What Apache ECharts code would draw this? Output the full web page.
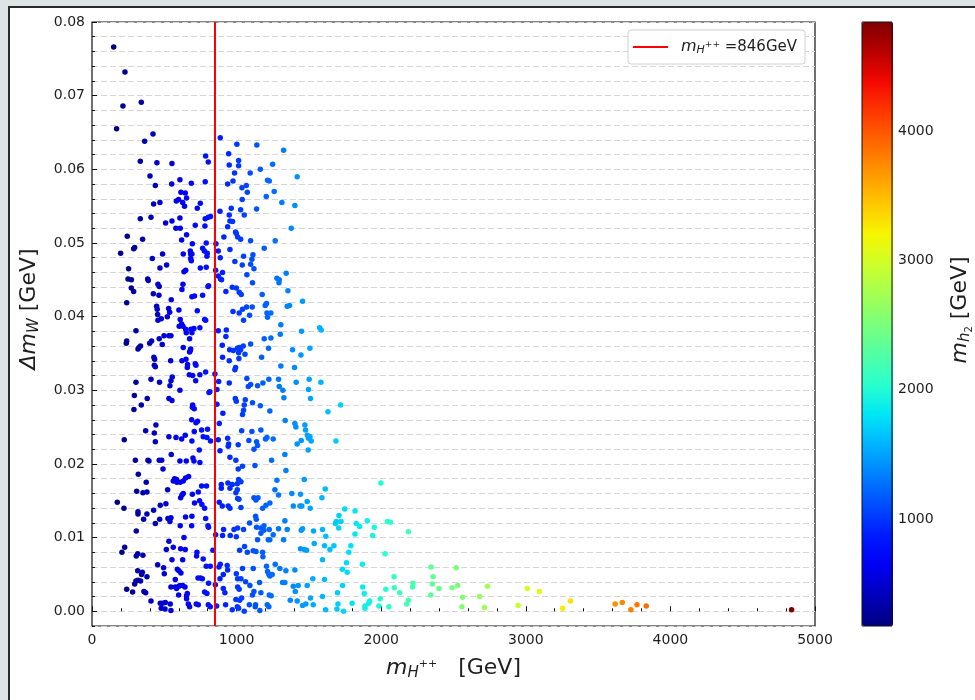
<!DOCTYPE html>
<html><head><meta charset="utf-8">
<script src="https://cdn.jsdelivr.net/npm/echarts@6/dist/echarts.min.js"></script>
<style>html,body{margin:0;padding:0;background:#dee3e3}#c{width:975px;height:700px}</style>
</head><body><div id="c"></div>
<script>
// [m_H++ (GeV), Delta m_W (GeV), m_h2 (GeV)]
const points = [
[150,0.0766,171],[228,0.0732,230],[214,0.0686,210],[341,0.0691,340],[170,0.0655,180],[422,0.0648,420],[364,0.0638,360],[334,0.0611,330],[449,0.0609,450],[553,0.0608,550],[401,0.0591,400],[438,0.0578,440],[551,0.0580,550],[608,0.0586,610],[687,0.0581,690],[783,0.0583,780],[786,0.0618,790],[804,0.0610,800],[615,0.0569,620],[645,0.0568,640],[654,0.0561,650],[583,0.0557,580],[599,0.0559,600],[627,0.0555,630],[640,0.0550,640],[426,0.0553,430],[470,0.0555,470],[749,0.0554,750],[728,0.0547,730],[334,0.0533,330],[408,0.0535,410],[509,0.0527,510],[553,0.0530,550],[608,0.0534,610],[580,0.0520,580],[610,0.0520,610],[714,0.0524,710],[781,0.0523,780],[783,0.0533,780],[804,0.0535,800],[820,0.0536,820],[887,0.0643,890],[945,0.0621,940],[1002,0.0634,1000],[949,0.0606,950],[1014,0.0612,1010],[1014,0.0605,1020],[986,0.0595,990],[1094,0.0595,1090],[1164,0.0600,1160],[975,0.0584,980],[938,0.0580,940],[1037,0.0575,1040],[1067,0.0578,1070],[1074,0.0569,1070],[1140,0.0633,1140],[1249,0.0607,1250],[1325,0.0626,1320],[1419,0.0590,1420],[1214,0.0585,1210],[1226,0.0584,1230],[1260,0.0570,1260],[1205,0.0563,1200],[1039,0.0559,1040],[1313,0.0555,1310],[1403,0.0551,1400],[885,0.0543,890],[963,0.0547,960],[1028,0.0545,1030],[1138,0.0546,1140],[949,0.0538,950],[1053,0.0538,1050],[954,0.0530,950],[972,0.0529,970],[938,0.0522,940],[1378,0.0520,1380],[993,0.0515,990],
[244,0.0509,240],[350,0.0505,350],[198,0.0486,200],[288,0.0492,290],[295,0.0494,300],[253,0.0465,250],[249,0.0451,250],[272,0.0450,270],[272,0.0439,270],[288,0.0434,290],[240,0.0419,240],[385,0.0451,380],[389,0.0449,390],[417,0.0479,420],[488,0.0485,490],[516,0.0470,520],[470,0.0466,470],[424,0.0431,420],[463,0.0429,460],[465,0.0441,460],[456,0.0444,460],[548,0.0423,550],[447,0.0414,450],[451,0.0410,450],[454,0.0403,450],[456,0.0395,460],[479,0.0397,480],[530,0.0411,530],[537,0.0406,540],[521,0.0400,520],[498,0.0374,500],[532,0.0374,530],[546,0.0374,550],[465,0.0370,460],[486,0.0362,490],[412,0.0367,410],[399,0.0364,400],[304,0.0381,300],[240,0.0367,240],[237,0.0364,240],[325,0.0358,330],[336,0.0360,340],[318,0.0356,320],[428,0.0345,430],[433,0.0342,430],[431,0.0334,430],[438,0.0332,440],[544,0.0340,540],[408,0.0315,410],[467,0.0311,470],[304,0.0311,300],[546,0.0313,550],[555,0.0318,550],[539,0.0306,540],[608,0.0300,610],[293,0.0293,290],[382,0.0289,380],[341,0.0280,340],[290,0.0274,290],[532,0.0289,530],[553,0.0286,550],[601,0.0409,600],[610,0.0396,610],[620,0.0390,620],[629,0.0387,630],[648,0.0383,650],[652,0.0378,650],[603,0.0387,600],[622,0.0437,620],[629,0.0444,630],[636,0.0461,640],[648,0.0463,650],[631,0.0485,630],[654,0.0511,650],[620,0.0504,620],[682,0.0485,680],[682,0.0479,680],[691,0.0485,690],[687,0.0476,690],[694,0.0499,690],[680,0.0489,680],[749,0.0466,750],[765,0.0493,770],[777,0.0489,780],[790,0.0500,790],[790,0.0467,790],[795,0.0482,800],[797,0.0486,800],[802,0.0441,800],[806,0.0442,810],[691,0.0427,690],[709,0.0428,710],[765,0.0429,760],[728,0.0408,730],[779,0.0396,780],[786,0.0395,790],[746,0.0385,750],[684,0.0383,680],[691,0.0378,690],[705,0.0384,700],[675,0.0370,670],[631,0.0358,630],[682,0.0356,680],[680,0.0354,680],[675,0.0352,670],[622,0.0340,620],[650,0.0342,650],[661,0.0335,660],[659,0.0331,660],[719,0.0334,720],[714,0.0336,710],[673,0.0321,670],[696,0.0320,700],[746,0.0321,750],[786,0.0325,790],[717,0.0313,720],[809,0.0297,810],[815,0.0298,820],[696,0.0280,700],[694,0.0277,690],[707,0.0275,710],[689,0.0260,690],[730,0.0258,730],[719,0.0256,720],[707,0.0244,710],[758,0.0246,760],[799,0.0247,800],[691,0.0231,690],[620,0.0234,620],[581,0.0236,580],[532,0.0237,530],[645,0.0239,640],[769,0.0237,770],[442,0.0253,440],[431,0.0242,430],[371,0.0245,370],[438,0.0230,440],[223,0.0233,220],[300,0.0205,300],[387,0.0205,390],[394,0.0204,390],[465,0.0205,460],[482,0.0205,480],[548,0.0213,550],[608,0.0204,610],[652,0.0204,650],[698,0.0208,700],[705,0.0204,700],[746,0.0202,750],[742,0.0219,740],[820,0.0231,820],[795,0.0236,800],
[857,0.0499,860],[873,0.0489,870],[887,0.0480,890],[912,0.0508,910],[954,0.0491,950],[988,0.0475,990],[998,0.0513,1000],[1007,0.0508,1010],[1028,0.0505,1030],[1097,0.0503,1100],[1048,0.0482,1050],[1039,0.0470,1040],[1097,0.0471,1100],[1106,0.0478,1110],[1113,0.0484,1110],[1120,0.0465,1120],[1191,0.0493,1190],[1267,0.0503,1270],[855,0.0463,860],[873,0.0455,870],[889,0.0451,890],[903,0.0460,900],[896,0.0450,900],[926,0.0434,930],[970,0.0440,970],[998,0.0439,1000],[1018,0.0433,1020],[1032,0.0430,1030],[1071,0.0457,1070],[1110,0.0446,1110],[1177,0.0430,1180],[1198,0.0415,1200],[1207,0.0418,1210],[1279,0.0452,1280],[1295,0.0450,1290],[1355,0.0435,1350],[1293,0.0446,1290],[1343,0.0459,1340],[1456,0.0421,1460],[1350,0.0414,1350],[1366,0.0415,1370],[975,0.0407,980],[1018,0.0405,1020],[1041,0.0410,1040],[1069,0.0413,1070],[1108,0.0413,1110],[1090,0.0402,1090],[1048,0.0395,1050],[1210,0.0405,1210],[1237,0.0405,1240],[1214,0.0399,1210],[1306,0.0389,1310],[1302,0.0376,1300],[1237,0.0371,1240],[1191,0.0370,1190],[1449,0.0380,1450],[1574,0.0385,1570],[1585,0.0382,1580],[873,0.0381,870],[929,0.0382,930],[926,0.0373,930],[901,0.0361,900],[952,0.0355,950],[977,0.0354,980],[1005,0.0357,1000],[1018,0.0358,1020],[1028,0.0355,1030],[1046,0.0360,1050],[1014,0.0351,1010],[1058,0.0349,1060],[1097,0.0363,1100],[1016,0.0343,1020],[949,0.0340,950],[903,0.0345,900],[1173,0.0345,1170],[1221,0.0357,1220],[1387,0.0355,1390],[1445,0.0348,1440],[1507,0.0357,1510],[1306,0.0333,1310],[1401,0.0331,1400],[993,0.0331,990],[988,0.0328,990],[850,0.0322,850],[876,0.0312,880],[1071,0.0316,1070],[1097,0.0308,1100],[1081,0.0305,1080],[1145,0.0306,1150],[1182,0.0310,1180],[1223,0.0315,1220],[1290,0.0315,1290],[1295,0.0305,1300],[1320,0.0300,1320],[1327,0.0290,1330],[1412,0.0311,1410],[1502,0.0315,1500],[1583,0.0311,1580],[1497,0.0301,1500],[1511,0.0289,1510],[949,0.0310,950],[864,0.0301,860],[991,0.0289,990],[998,0.0285,1000],[1060,0.0287,1060],[1053,0.0280,1050],[1048,0.0273,1050],[1041,0.0267,1040],[1164,0.0279,1160],[1230,0.0272,1230],[1110,0.0283,1110],[864,0.0281,860],[880,0.0255,880],[905,0.0269,900],[1035,0.0245,1040],[1106,0.0244,1110],[1168,0.0246,1170],[1200,0.0234,1200],[1210,0.0236,1210],[1253,0.0234,1250],[1085,0.0232,1090],[1138,0.0230,1140],[1145,0.0225,1150],[1120,0.0220,1120],[938,0.0235,940],[945,0.0227,950],[942,0.0224,940],[1011,0.0226,1010],[873,0.0233,870],[885,0.0218,890],[954,0.0209,950],[995,0.0205,990],[1127,0.0198,1130],[1242,0.0205,1240],[1341,0.0191,1340],[1403,0.0255,1400],[1410,0.0250,1410],[1472,0.0253,1470],[1477,0.0246,1480],[1490,0.0239,1490],[1507,0.0237,1510],[1516,0.0231,1520],[1497,0.0235,1500],[1419,0.0227,1420],[1447,0.0232,1450],[1336,0.0259,1340],[1334,0.0213,1330],[1495,0.0219,1490],
[175,0.0148,180],[221,0.0140,220],[207,0.0080,210],[226,0.0087,230],[240,0.0030,240],[281,0.0026,280],[295,0.0037,300],[304,0.0041,300],[318,0.0042,320],[336,0.0041,340],[343,0.0050,340],[348,0.0053,350],[316,0.0055,320],[306,0.0075,310],[316,0.0078,320],[352,0.0076,350],[380,0.0047,380],[359,0.0027,360],[371,0.0025,370],[408,0.0014,410],[306,0.0109,310],[318,0.0135,320],[318,0.0132,320],[309,0.0163,310],[320,0.0186,320],[375,0.0175,380],[352,0.0161,350],[380,0.0162,380],[380,0.0132,380],[357,0.0125,360],[426,0.0137,430],[438,0.0119,440],[468,0.0125,470],[472,0.0144,470],[511,0.0146,510],[454,0.0063,450],[495,0.0059,500],[500,0.0051,500],[472,0.0011,470],[488,0.0011,490],[507,0.0012,510],[541,0.0010,540],[479,0.0004,480],[505,0.0003,500],[546,0.0001,550],[523,0.0165,520],[491,0.0193,490],[539,0.0122,540],[546,0.0127,550],[532,0.0095,530],[562,0.0087,560],[514,0.0084,510],[553,0.0070,550],[590,0.0057,590],[601,0.0055,600],[615,0.0052,610],[576,0.0043,580],[546,0.0033,550],[576,0.0033,580],[585,0.0031,590],[601,0.0034,600],[610,0.0035,610],[627,0.0035,630],[643,0.0033,640],[599,0.0022,600],[659,0.0024,660],[654,0.0021,650],[666,0.0010,670],[675,0.0006,680],[654,0.0017,650],[721,0.0010,720],[735,0.0009,730],[571,0.0180,570],[562,0.0177,560],[585,0.0179,590],[587,0.0175,590],[610,0.0175,610],[631,0.0177,630],[647,0.0181,650],[668,0.0183,670],[622,0.0158,620],[631,0.0160,630],[613,0.0154,610],[525,0.0126,530],[610,0.0116,610],[636,0.0100,640],[613,0.0085,610],[645,0.0084,650],[627,0.0070,630],[647,0.0128,650],[691,0.0129,690],[689,0.0116,690],[709,0.0147,710],[694,0.0159,690],[735,0.0162,740],[758,0.0170,760],[792,0.0170,790],[760,0.0145,760],[779,0.0140,780],[744,0.0150,740],[786,0.0126,790],[802,0.0116,800],[806,0.0114,810],[726,0.0080,730],[723,0.0075,720],[769,0.0071,770],[790,0.0061,790],[818,0.0061,820],[733,0.0045,730],[751,0.0045,750],[763,0.0044,760],[779,0.0026,780],[795,0.0024,800],[804,0.0009,800],[818,0.0006,820],[806,0.0038,810],
[836,0.0083,840],[855,0.0104,860],[880,0.0148,880],[901,0.0143,900],[894,0.0167,890],[894,0.0172,890],[940,0.0174,940],[954,0.0167,950],[970,0.0172,970],[1005,0.0173,1000],[1014,0.0179,1010],[995,0.0161,990],[1005,0.0165,1010],[1030,0.0176,1030],[1011,0.0193,1010],[1041,0.0197,1040],[1007,0.0153,1010],[1016,0.0152,1020],[1030,0.0141,1030],[942,0.0143,940],[954,0.0140,950],[910,0.0111,910],[903,0.0103,900],[956,0.0103,960],[982,0.0111,980],[998,0.0101,1000],[1007,0.0113,1010],[1048,0.0111,1050],[887,0.0064,890],[878,0.0060,880],[935,0.0062,940],[938,0.0056,940],[908,0.0050,910],[885,0.0044,880],[853,0.0036,850],[908,0.0031,910],[919,0.0025,920],[998,0.0051,1000],[1007,0.0044,1010],[1030,0.0044,1030],[1007,0.0033,1010],[1018,0.0030,1020],[1041,0.0058,1040],[1021,0.0083,1020],[1055,0.0088,1060],[1074,0.0080,1070],[1062,0.0040,1060],[1092,0.0035,1090],[1120,0.0027,1120],[1168,0.0025,1170],[1159,0.0039,1160],[1110,0.0022,1110],[995,0.0016,1000],[1021,0.0015,1020],[1035,0.0018,1030],[862,0.0007,860],[924,0.0009,920],[970,0.0002,970],[1005,0.0006,1000],[1014,0.0004,1010],[1053,0.0000,1050],[1088,0.0009,1090],[1131,0.0009,1130],[1129,0.0006,1130],[1161,0.0001,1160],[1090,0.0120,1090],[1131,0.0129,1130],[1136,0.0125,1140],[1120,0.0154,1120],[1134,0.0151,1130],[1148,0.0154,1150],[1180,0.0140,1180],[1203,0.0144,1200],[1230,0.0147,1230],[1138,0.0114,1140],[1168,0.0113,1170],[1189,0.0116,1190],[1168,0.0106,1170],[1189,0.0110,1190],[1145,0.0097,1150],[1219,0.0097,1220],[1230,0.0097,1230],[1226,0.0111,1230],[1290,0.0112,1290],[1350,0.0111,1350],[1325,0.0097,1320],[1180,0.0080,1180],[1182,0.0074,1180],[1115,0.0082,1120],[1134,0.0081,1130],[1115,0.0058,1120],[1207,0.0061,1210],[1214,0.0054,1210],[1223,0.0050,1220],[1230,0.0048,1230],[1246,0.0050,1250],[1267,0.0064,1270],[1299,0.0058,1300],[1341,0.0055,1340],[1403,0.0056,1400],[1318,0.0039,1320],[1334,0.0039,1330],[1392,0.0034,1390],[1406,0.0027,1410],[1426,0.0035,1430],[1226,0.0022,1230],[1239,0.0021,1240],[1212,0.0009,1210],[1223,0.0006,1220],[1371,0.0015,1370],[1419,0.0014,1420],[1456,0.0008,1460],[1479,0.0010,1480],[1530,0.0009,1530],[1511,0.0018,1510],[1488,0.0035,1490],[1527,0.0044,1530],[1334,0.0123,1330],[1253,0.0104,1250],[1382,0.0160,1380],[1442,0.0159,1440],[1392,0.0143,1390],[1438,0.0143,1440],[1451,0.0143,1450],[1509,0.0140,1510],[1488,0.0149,1490],[1468,0.0179,1470],[1279,0.0178,1280],[1290,0.0158,1290],[1265,0.0165,1270],[1447,0.0110,1450],[1456,0.0112,1460],[1532,0.0109,1530],[1442,0.0085,1440],[1468,0.0084,1470],[1484,0.0083,1480],[1537,0.0092,1540],
[1719,0.0280,1720],[1632,0.0271,1630],[1687,0.0231,1690],[1998,0.0174,2000],[1613,0.0166,1610],[1590,0.0154,1590],[1748,0.0139,1750],[1819,0.0136,1820],[1708,0.0130,1710],[1690,0.0122,1690],[1722,0.0122,1720],[1683,0.0119,1680],[1706,0.0113,1710],[1828,0.0119,1830],[1851,0.0115,1850],[1904,0.0123,1900],[1952,0.0114,1950],[1941,0.0103,1940],[2043,0.0122,2040],[2064,0.0121,2060],[2188,0.0108,2190],[1819,0.0105,1820],[1594,0.0111,1590],[1617,0.0102,1620],[1608,0.0089,1610],[1645,0.0084,1650],[1673,0.0089,1670],[1790,0.0089,1790],[1776,0.0080,1780],[1594,0.0070,1590],[1760,0.0066,1760],[1731,0.0057,1730],[1765,0.0053,1770],[1870,0.0064,1870],[2027,0.0078,2030],[1608,0.0043,1610],[1733,0.0035,1730],[1698,0.0025,1700],[1594,0.0020,1590],[1799,0.0011,1800],[1701,0.0010,1700],[1694,0.0003,1690],[1616,0.0002,1620],[1740,0.0000,1740],[1872,0.0033,1870],[1883,0.0024,1880],[1920,0.0014,1920],[1913,0.0011,1910],[1888,0.0007,1890],[1888,0.0004,1890],[1984,0.0007,1980],[1993,0.0017,1990],[2032,0.0030,2030],[2089,0.0047,2090],[2091,0.0032,2090],[2128,0.0025,2130],[2053,0.0006,2050],[2176,0.0010,2180],[2188,0.0015,2190],[2220,0.0038,2220],[2217,0.0033,2220],[2345,0.0060,2350],[2359,0.0047,2360],[2354,0.0037,2350],[2400,0.0031,2400],[2343,0.0022,2340],[2519,0.0059,2520],[2529,0.0035,2530],[2490,0.0032,2490],[2563,0.0019,2560],[2558,0.0006,2560],[2680,0.0020,2680],[2714,0.0005,2710],[2735,0.0034,2740],[2947,0.0008,2950],[3011,0.0031,3010],[3094,0.0027,3090],[3254,0.0004,3250],[3309,0.0014,3310],
[3618,0.0010,3720],[3667,0.0012,3760],[3727,0.0002,3800],[3769,0.0009,3840],[3833,0.0007,3880],[4838,0.0002,4845]
];
const xTicks = [0,1000,2000,3000,4000,5000];
const yTicks = [0,0.01,0.02,0.03,0.04,0.05,0.06,0.07,0.08];
const cbTicks = [1000,2000,3000,4000];
const refMass = 846;
const cRange = [171,4845];
const jet = ['#000080','#0000b9','#0000f4','#001aff','#004dff','#0080ff','#00b3ff','#00e6f7','#29ffce','#52ffa4','#7bff7b','#a4ff52','#ceff29','#f7f500','#ffc600','#ff9700','#ff6800','#ff3900','#f40900','#b90000','#800000'];

const F = 'DejaVu Sans';
const chart = echarts.init(document.getElementById('c'), null, {renderer:'canvas'});
const ink = '#111111';
const txt = '#1e1e1e';
const option = {
  animation:false,
  backgroundColor:'#dee3e3',
  graphic:[{type:'rect', z:-1, silent:true, shape:{x:9,y:7,width:1000,height:800}, style:{fill:'#ffffff', stroke:'#2a2a2a', lineWidth:2}}],
  grid:[
    {left:92, top:22, width:723, height:604, show:true, backgroundColor:'#ffffff', borderColor:ink, borderWidth:1.2},
    {left:862, top:22, width:31, height:604, show:true, backgroundColor:'transparent', borderColor:ink, borderWidth:1, z:10}
  ],
  xAxis:[
    {gridIndex:0, type:'value', min:xTicks[0], max:xTicks[xTicks.length-1], interval:1000,
     axisLine:{show:false}, splitLine:{show:false},
     axisTick:{show:true, inside:true, length:5, lineStyle:{color:ink}},
     minorTick:{show:true, splitNumber:5, length:3, lineStyle:{color:ink}},
     axisLabel:{color:txt, fontSize:14, fontFamily:F, margin:7, formatter:v=>String(v)},
     name:'{m|m}{s|H}{p|++}{t|   [GeV]}', nameLocation:'middle', nameGap:29,
     nameTextStyle:{color:txt, fontFamily:F, rich:{
       m:{fontSize:22, fontStyle:'italic', fontFamily:F, lineHeight:26, color:txt},
       s:{fontSize:15, fontStyle:'italic', fontFamily:F, lineHeight:15, padding:[11,0,0,0], color:txt},
       p:{fontSize:11, fontFamily:F, lineHeight:11, padding:[0,0,8,0], color:txt},
       t:{fontSize:22, fontFamily:F, lineHeight:26, color:txt}}}},
    {gridIndex:1, type:'value', min:0, max:1, show:false}
  ],
  yAxis:[
    {gridIndex:0, type:'value', min:-0.002, max:0.08, interval:0.002,
     axisLine:{show:false}, splitLine:{show:false},
     axisTick:{show:true, inside:true, length:5, customValues:yTicks, lineStyle:{color:ink}},
     axisLabel:{customValues:yTicks, formatter:v=>v.toFixed(2), color:txt, fontSize:14, fontFamily:F, margin:7},
     name:'{d|Δm}{s|W}{t| [GeV]}', nameLocation:'middle', nameGap:50, nameRotate:90,
     nameTextStyle:{color:txt, fontFamily:F, padding:[0,0,0,30], rich:{
       d:{fontSize:22, fontStyle:'italic', fontFamily:F, lineHeight:26, color:txt},
       s:{fontSize:15, fontStyle:'italic', fontFamily:F, lineHeight:15, padding:[11,0,0,0], color:txt},
       t:{fontSize:22, fontFamily:F, lineHeight:26, color:txt}}}},
    {gridIndex:0, type:'value', min:-0.002, max:0.08, interval:0.002, position:'left',
     axisLine:{show:false}, axisLabel:{show:false},
     splitLine:{show:true, lineStyle:{color:'#d6d6d6', type:[6,3], width:1}},
     axisTick:{show:true, inside:true, length:3, lineStyle:{color:ink}}},
    {gridIndex:1, type:'value', position:'right', min:cRange[0], max:cRange[1],
     axisLine:{show:false}, splitLine:{show:false},
     axisTick:{show:true, inside:false, length:4, customValues:cbTicks, lineStyle:{color:ink}},
     axisLabel:{customValues:cbTicks, formatter:v=>String(v), color:txt, fontSize:14, fontFamily:F, margin:6},
     name:'{m|m}{s|h}{q|2}{t| [GeV]}', nameLocation:'middle', nameGap:55, nameRotate:90,
     nameTextStyle:{color:txt, fontFamily:F, padding:[0,0,0,28], rich:{
       m:{fontSize:22, fontStyle:'italic', fontFamily:F, lineHeight:26, color:txt},
       s:{fontSize:15, fontStyle:'italic', fontFamily:F, lineHeight:15, padding:[11,0,0,0], color:txt},
       q:{fontSize:10, fontFamily:F, lineHeight:10, padding:[18,0,0,0], color:txt},
       t:{fontSize:22, fontFamily:F, lineHeight:26, color:txt}}}}
  ],
  visualMap:{type:'continuous', min:cRange[0], max:cRange[1], dimension:2, seriesIndex:0,
    inRange:{color:jet}, calculable:false, hoverLink:false, orient:'vertical',
    left:862, top:22, itemWidth:31, itemHeight:604, padding:0, text:null, showLabel:false},
  legend:{left:628, top:30, padding:[8,8,8,5], backgroundColor:'#fff', borderColor:'#d0d0d0', borderWidth:1, borderRadius:3,
    icon:'rect', itemWidth:35, itemHeight:2, data:['ref'],
    formatter:()=>'{m|m}{s|H}{p|++}{t| =846GeV}',
    textStyle:{fontFamily:F, color:txt, rich:{
      m:{fontSize:16, fontStyle:'italic', fontFamily:F, lineHeight:18, padding:[0,0,0,8], color:txt},
      s:{fontSize:11, fontStyle:'italic', fontFamily:F, lineHeight:11, padding:[7,0,0,0], color:txt},
      p:{fontSize:9, fontFamily:F, lineHeight:9, padding:[0,0,5,0], color:txt},
      t:{fontSize:15, fontFamily:F, lineHeight:18, color:txt}}}},
  series:[
    {type:'scatter', xAxisIndex:0, yAxisIndex:0, symbolSize:5.5, data:points, itemStyle:{opacity:1}, silent:true},
    {type:'line', name:'ref', xAxisIndex:0, yAxisIndex:0, data:[], color:'#ff0000', lineStyle:{color:'#ff0000', width:2}, showSymbol:false,
     markLine:{silent:true, symbol:['none','none'], label:{show:false}, lineStyle:{color:'#ff0000', width:2, type:'solid'}, data:[{xAxis:refMass}]}}
  ]
};
chart.setOption(option);
</script></body></html>
